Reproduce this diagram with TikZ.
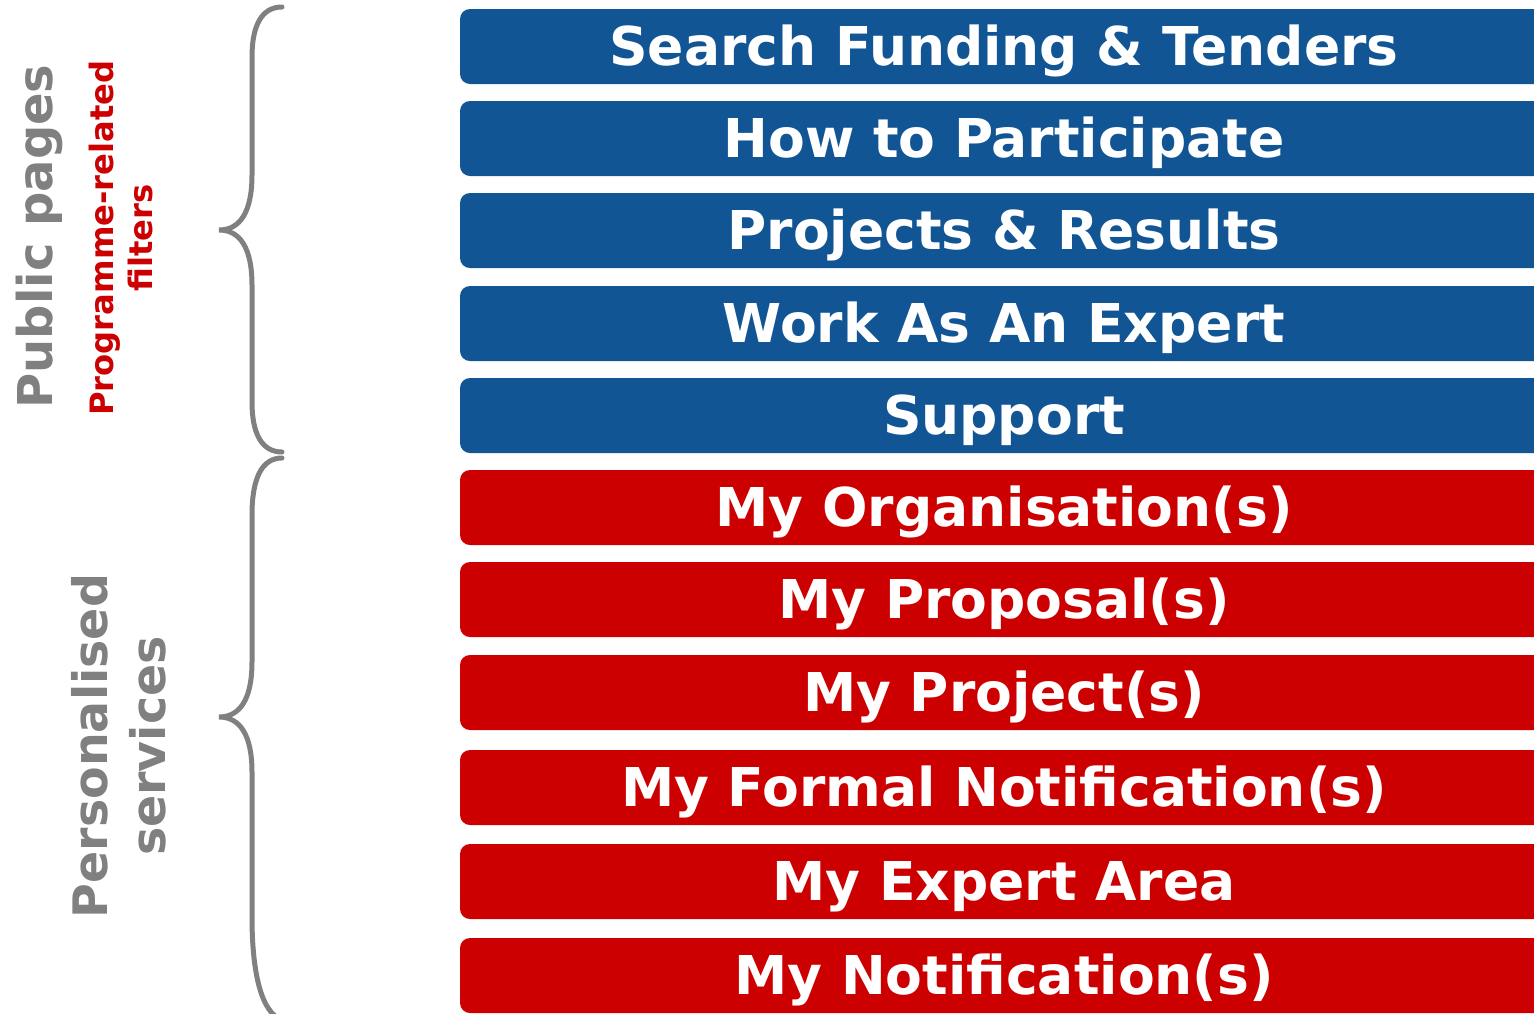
\documentclass[tikz,border=0pt]{standalone}
\usepackage{fontspec}
\setmainfont{DejaVu Sans}
\definecolor{eublue}{RGB}{17,85,148}
\definecolor{eured}{RGB}{204,0,0}
\definecolor{bracegray}{RGB}{128,128,128}
\begin{document}
\begin{tikzpicture}[x=1pt,y=-1pt,
  box/.style={rectangle, rounded corners=10pt, minimum width=1088pt, minimum height=75pt,
    inner sep=0pt, text=white, font=\fontsize{53.5}{60}\selectfont\bfseries,
    text height=38.5pt, text depth=0pt},
  pubbox/.style={box, fill=eublue},
  persbox/.style={box, fill=eured},
  bracepath/.style={draw=bracegray, line width=5pt, line cap=round},
  sidelabel/.style={rotate=90, inner sep=0pt, align=center, font=\bfseries}
]
\clip (0,0) rectangle (1534,1013);
\fill[white] (0,0) rectangle (1534,1013);

\node[pubbox] (b1) at (1004,46.5) {Search Funding \& Tenders};
\node[pubbox] (b2) at (1004,138.5) {How to Participate};
\node[pubbox] (b3) at (1004,230.5) {Projects \& Results};
\node[pubbox] (b4) at (1004,323.5) {Work As An Expert};
\node[pubbox] (b5) at (1004,415.5) {Support};
\node[persbox] (r1) at (1004,507.5) {My Organisation(s)};
\node[persbox] (r2) at (1004,599.5) {My Proposal(s)};
\node[persbox] (r3) at (1004,692.5) {My Project(s)};
\node[persbox] (r4) at (1004,787.5) {My Formal Notification(s)};
\node[persbox] (r5) at (1004,881.5) {My Expert Area};
\node[persbox] (r6) at (1004,975.5) {My Notification(s)};

% braces
\path[bracepath] (282,7) .. controls (262,7) and (252,25) .. (252,57)
  -- (252,175) .. controls (252,212) and (240,230) .. (219,230)
  .. controls (240,230) and (252,248) .. (252,285)
  -- (252,402) .. controls (252,434) and (262,452) .. (282,452);
\path[bracepath] (282,458) .. controls (262,458) and (252,478) .. (252,515)
  -- (252,662) .. controls (252,699) and (240,717) .. (219,717)
  .. controls (240,717) and (252,735) .. (252,772)
  -- (252,917) .. controls (252,975) and (262,1013) .. (282,1020);

% side labels
\node[sidelabel, text=bracegray, font=\fontsize{48}{56}\selectfont\bfseries] (pub) at (39.4,236.5) {Public pages};
\node[sidelabel, text=eured, font=\fontsize{32.2}{39}\selectfont\bfseries] (prog) at (120.7,238) {Programme-related\\filters};
\node[sidelabel, text=bracegray, font=\fontsize{47.5}{58}\selectfont\bfseries] (pers) at (118.8,746) {Personalised\\services};
\end{tikzpicture}
\end{document}
